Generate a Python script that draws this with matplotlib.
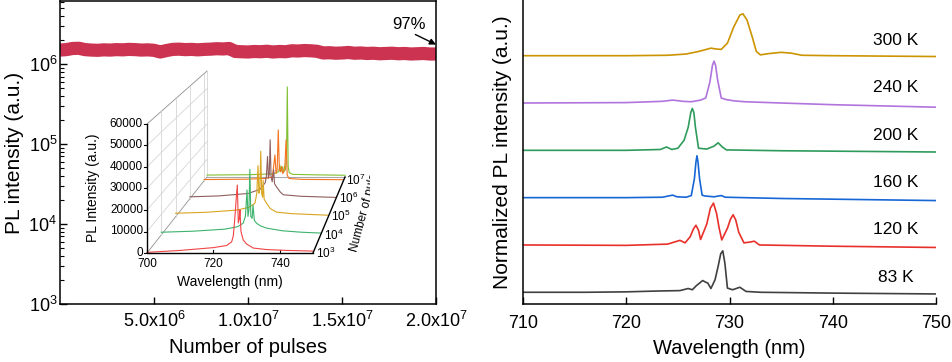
import numpy as np
import matplotlib.pyplot as plt
from matplotlib.ticker import FixedLocator, FuncFormatter, LogLocator, NullFormatter

plt.rcParams['font.family'] = ['Liberation Sans', 'DejaVu Sans']
plt.rcParams['mathtext.fontset'] = 'custom'
plt.rcParams['mathtext.rm'] = 'Liberation Sans'
plt.rcParams['mathtext.it'] = 'Liberation Sans:italic'
plt.rcParams['mathtext.default'] = 'regular'

# ---- left panel: PL intensity vs number of pulses (units of 1e6)
pulse_max = 2.0e7
band = [1.50, 1.52, 1.57, 1.58, 1.52, 1.50, 1.49, 1.51, 1.50, 1.52, 1.51, 1.53, 1.52, 1.50, 1.51,
        1.49, 1.42, 1.48, 1.53, 1.54, 1.52, 1.53, 1.51, 1.53, 1.54, 1.56, 1.55, 1.57, 1.44, 1.43,
        1.42, 1.44, 1.43, 1.45, 1.42, 1.44, 1.43, 1.47, 1.46, 1.48, 1.47, 1.45, 1.38, 1.39, 1.37,
        1.38, 1.40, 1.37, 1.38, 1.36, 1.37, 1.35, 1.36, 1.37, 1.35, 1.36, 1.34, 1.35, 1.36, 1.34, 1.34]

# ---- inset: spectra at different pulse numbers (log10 N used as depth)
inset_depth = [3, 4, 5, 6, 7, 7.2]
inset_colors = ['#F04545', '#3DB36B', '#D9A520', '#8E5E5E', '#F5731E', '#80C030']
inset_wl = [
    [700, 710, 720, 724, 725.5, 726.0, 726.5, 726.9, 727.2, 727.5, 727.8, 728.0, 728.3, 729.0, 730, 732, 736, 742, 750],
    [700, 710, 720, 724, 725.7, 726.4, 726.9, 727.2, 727.5, 727.8, 728.1, 728.5, 728.8, 729.2, 729.9, 731, 733, 738, 744, 750],
    [700, 710, 720, 724, 726, 726.6, 727.0, 727.3, 727.6, 727.9, 728.2, 728.5, 728.7, 729.0, 729.8, 731, 733, 738, 744, 750],
    [700, 710, 720, 724, 725.8, 726.2, 726.6, 726.9, 727.2, 727.5, 727.8, 728.2, 728.7, 729.0, 729.6, 731, 732, 738, 744, 750],
    [700, 715, 722, 724.5, 725.4, 725.8, 726.2, 726.6, 727.0, 727.4, 727.8, 728.2, 728.6, 729.0, 729.4, 729.8, 730.5, 735, 750],
    [700, 715, 724, 726.0, 726.4, 726.8, 727.4, 727.8, 728.4, 728.8, 729.1, 729.4, 729.8, 731, 740, 750],
]
inset_int = [
    [300, 1200, 2500, 3500, 5200, 8000, 17000, 26000, 31600, 14000, 16000, 20000, 10000, 6000, 4200, 2300, 1600, 1200, 900],
    [1300, 1800, 2800, 4000, 5700, 9000, 21800, 9000, 12000, 31800, 9000, 8000, 14500, 7000, 5700, 4500, 3300, 2000, 1300, 900],
    [1800, 2300, 3400, 4800, 6900, 12000, 26000, 12000, 14000, 33300, 12000, 10000, 18500, 9000, 6900, 4200, 2400, 1600, 1200, 800],
    [1000, 1500, 2800, 5000, 8500, 12000, 22500, 11000, 13000, 31400, 12000, 9000, 15500, 8000, 6500, 3500, 2100, 1300, 1000, 700],
    [600, 800, 1200, 2000, 14400, 4000, 6000, 28400, 6000, 5000, 7900, 4000, 5000, 9000, 22800, 3000, 1200, 700, 500],
    [1100, 1300, 1800, 3000, 6800, 3000, 5800, 3000, 4000, 12000, 51000, 6000, 2500, 1500, 1200, 1000],
]
inset_zticks = [0, 10000, 20000, 30000, 40000, 50000, 60000]
inset_xticks = [700, 720, 740]
inset_nticks = [3, 4, 5, 6, 7]

# ---- right panel: normalized PL at different temperatures
temps = ['83 K', '120 K', '160 K', '200 K', '240 K', '300 K']
temp_colors = ['#404040', '#E8302A', '#1766D6', '#2E9B5C', '#B174DC', '#CC9400']
wl_T = [
    [710, 716, 720, 723, 725.2, 726.0, 726.4, 726.8, 727.4, 727.7, 727.9, 728.2, 728.6, 728.9, 729.15, 729.35, 729.55, 729.8, 730.3, 731.0, 731.6, 733, 740, 750],
    [710, 720, 724, 725.2, 725.7, 726.2, 726.5, 726.75, 727.0, 727.2, 727.8, 728.15, 728.45, 728.75, 729.0, 729.25, 729.8, 730.1, 730.35, 730.6, 730.9, 731.4, 732.0, 732.4, 732.9, 740, 750],
    [710, 720, 723.5, 724.5, 724.9, 725.8, 726.3, 726.6, 726.75, 726.85, 726.95, 727.1, 727.35, 727.6, 728.5, 729.2, 729.6, 735, 750],
    [710, 720, 723.3, 723.9, 724.4, 725.0, 725.6, 726.0, 726.25, 726.4, 726.55, 726.7, 727.0, 727.8, 728.5, 728.9, 729.3, 729.7, 735, 750],
    [710, 720, 723.5, 724.5, 725.5, 726.3, 727.2, 727.7, 728.1, 728.35, 728.5, 728.65, 728.85, 729.2, 729.7, 730.5, 731.5, 735, 740, 750],
    [710, 720, 724, 725.8, 727.0, 728.2, 728.7, 729.2, 729.8, 730.4, 731.0, 731.3, 731.7, 732.2, 732.6, 733.0, 733.8, 735.0, 736.0, 737.0, 740, 750],
]
pl_T = [
    [0, 0.0, 0.01, 0.03, 0.04, 0.09, 0.06, 0.16, 0.28, 0.24, 0.22, 0.09, 0.30, 0.62, 0.92, 0.99, 0.70, 0.10, 0.06, 0.12, 0.02, 0.0, -0.02, -0.04],
    [0, -0.01, 0.02, 0.11, 0.05, 0.20, 0.38, 0.47, 0.35, 0.13, 0.50, 0.88, 1.0, 0.75, 0.40, 0.12, 0.40, 0.62, 0.72, 0.60, 0.30, 0.05, 0.07, 0.09, 0.0, -0.03, -0.06],
    [0, 0.0, 0.01, 0.06, 0.02, 0.01, 0.05, 0.45, 0.85, 1.0, 0.85, 0.45, 0.06, 0.04, 0.02, 0.05, 0.01, -0.02, -0.07],
    [0, 0.0, 0.02, 0.08, 0.02, 0.05, 0.24, 0.55, 0.90, 1.0, 0.90, 0.55, 0.05, 0.03, 0.10, 0.18, 0.08, 0.01, -0.01, -0.04],
    [0, 0.01, 0.04, 0.07, 0.04, 0.03, 0.07, 0.12, 0.50, 0.90, 1.0, 0.90, 0.55, 0.12, 0.08, 0.05, 0.03, 0.0, -0.04, -0.10],
    [0, 0.0, 0.01, 0.04, 0.10, 0.18, 0.16, 0.15, 0.30, 0.68, 0.97, 1.0, 0.85, 0.45, 0.10, 0.02, 0.05, 0.08, 0.06, 0.01, 0.0, -0.02],
]
offset_step = 1.13

fig = plt.figure(figsize=(9.52, 3.62), dpi=100)

# ================= left panel
ax1 = fig.add_axes([60 / 952, 58 / 362, 376 / 952, 303 / 362])
n_pulses = np.linspace(0, pulse_max, len(band))
ax1.plot(n_pulses, np.array(band) * 1e6, color='#CC3350', lw=9.5, solid_capstyle='butt')
ax1.set_yscale('log')
ax1.set_xlim(0, pulse_max)
ax1.set_ylim(1e3, 10 ** 6.79)
ax1.xaxis.set_major_locator(FixedLocator([5e6, 1e7, 1.5e7, 2e7]))


def sci_fmt(v, pos):
    e = int(np.floor(np.log10(v)))
    return '%.1fx$10^{%d}$' % (v / 10 ** e, e)


ax1.xaxis.set_major_formatter(FuncFormatter(sci_fmt))
ax1.yaxis.set_major_locator(LogLocator(base=10, numticks=10))
ax1.yaxis.set_minor_locator(LogLocator(base=10, subs=np.arange(2, 10), numticks=10))
ax1.yaxis.set_minor_formatter(NullFormatter())
ax1.tick_params(direction='in', labelsize=13, length=5, width=1)
ax1.tick_params(which='minor', direction='in', length=3, width=0.8)
ax1.tick_params(axis='x', pad=5)
ax1.tick_params(axis='y', pad=2)
for s in ax1.spines.values():
    s.set_linewidth(1.1)
ax1.set_xlabel('Number of pulses', fontsize=14.5, labelpad=5)
ax1.set_ylabel('PL intensity (a.u.)', fontsize=15, labelpad=3)
ax1.text(1.856e7, 3.1e6, '97%', fontsize=12, ha='center', va='center')
ax1.annotate('', xy=(2.0e7, 1.76e6), xytext=(1.89e7, 2.35e6),
             arrowprops=dict(arrowstyle='-|>', color='black', lw=1, shrinkA=0, shrinkB=0, mutation_scale=9))

# ================= inset (oblique 3D drawn in a pixel-like frame)
axi = fig.add_axes([80 / 952, (362 - 292) / 362, 290 / 952, 237 / 362])
axi.set_xlim(80, 370)
axi.set_ylim(292, 55)
axi.axis('off')
axi.patch.set_alpha(0)


def proj(wl, inten, lg):
    t = (np.asarray(lg, dtype=float) - 3) / 4.2
    x0 = 147 + 60 * t
    yf = 253 - 76 * t
    w = 166 - 28 * t
    h = 129 - 23 * t
    return x0 + (np.asarray(wl, dtype=float) - 700) / 50 * w, yf - np.asarray(inten, dtype=float) / 60000 * h


grid_c = '#D6D6D6'
for z in inset_zticks:
    xs, ys = proj([700, 700], [z, z], [3, 7.2])
    axi.plot(xs, ys, color='#909090' if z in (0, 60000) else grid_c, lw=0.6)
for lg in inset_nticks[1:] + [7.2]:
    xs, ys = proj([700, 700], [0, 60000], [lg, lg])
    axi.plot(xs, ys, color=grid_c, lw=0.6)
xs, ys = proj([700, 750], [0, 0], [7.2, 7.2])
axi.plot(xs, ys, color='#A8A8A8', lw=0.8)

for k in range(len(inset_depth) - 1, -1, -1):
    xs, ys = proj(inset_wl[k], inset_int[k], [inset_depth[k]] * len(inset_wl[k]))
    axi.plot(xs, ys, color=inset_colors[k], lw=0.8, zorder=3 + (len(inset_depth) - k))

# front frame
xs, ys = proj([700, 700, 750], [60000, 0, 0], [3, 3, 3])
axi.plot(xs, ys, color='black', lw=1.0, zorder=20)
xs, ys = proj([750, 750], [0, 0], [3, 7.2])
axi.plot(xs, ys, color='black', lw=1.0, zorder=20)
for z in inset_zticks:
    x, y = proj(700, z, 3)
    axi.plot([x - 3, x], [y, y], color='black', lw=0.8)
    axi.text(x - 4, y, str(z), ha='right', va='center', fontsize=8.5)
for wv in inset_xticks:
    x, y = proj(wv, 0, 3)
    axi.plot([x, x], [y, y - 3], color='black', lw=0.8)
    axi.text(x, y + 5, str(wv), ha='center', va='top', fontsize=8.5)
for lg in inset_nticks:
    x, y = proj(750, 0, lg)
    axi.text(x + 3, y, '$10^{%d}$' % lg, ha='left', va='center', fontsize=8.5)
axi.text(93, 188, 'PL Intensity (a.u.)', rotation=90, ha='center', va='center', fontsize=10)
axi.text(230, 282, 'Wavelength (nm)', ha='center', va='center', fontsize=10)
axi.text(348, 250, 'Number of pulses', rotation=75, rotation_mode='anchor',
         ha='left', va='top', fontsize=8.5, clip_on=True)

# ================= right panel
ax2 = fig.add_axes([523 / 952, 58 / 362, 413 / 952, 304 / 362])
for i in range(len(temps)):
    off = i * offset_step
    ax2.plot(wl_T[i], np.array(pl_T[i]) + off, color=temp_colors[i], lw=1.2)
    ax2.text(746.1, off + 0.36, temps[i], ha='center', va='center', fontsize=12.5)
ax2.set_xlim(710, 750)
ax2.set_ylim(-0.28, 6.98)
ax2.set_xticks([710, 720, 730, 740, 750])
ax2.set_yticks([])
ax2.spines['top'].set_visible(False)
ax2.spines['right'].set_visible(False)
for s in ['left', 'bottom']:
    ax2.spines[s].set_linewidth(1.1)
ax2.tick_params(direction='in', labelsize=13, length=5, width=1, pad=8)
ax2.set_xlabel('Wavelength (nm)', fontsize=14.5, labelpad=5)
ax2.set_ylabel('Normalized PL intensity (a.u.)', fontsize=15, labelpad=8)

fig.savefig('out.png', dpi=100)
